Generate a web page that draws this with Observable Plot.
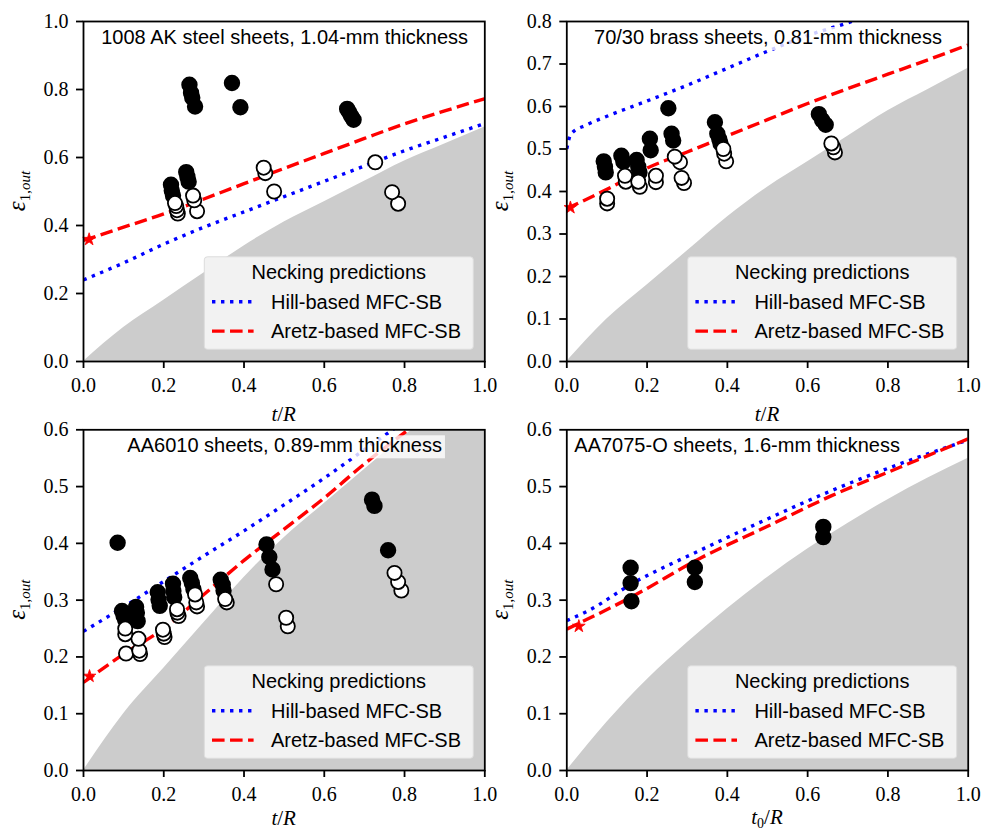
<!DOCTYPE html>
<html><head><meta charset="utf-8">
<script src="https://cdn.jsdelivr.net/npm/d3@7"></script>
<script src="https://cdn.jsdelivr.net/npm/@observablehq/plot@0.6"></script>
<style>
body{margin:0;background:#fff;}
#fig{position:relative;width:983px;height:832px;overflow:hidden;background:#fff;}
#fig svg{position:absolute;overflow:visible;max-width:none;background:transparent !important;}
</style></head><body><div id="fig"></div>
<script>
// ---------- data ----------
const gridX = [0,0.1,0.2,0.3,0.4,0.5,0.6,0.7,0.8,0.9,1.0];
const grayLnY = [0,0.10,0.18,0.26,0.34,0.41,0.47,0.53,0.59,0.64,0.69];
const grayThickY = [0,0.085,0.16,0.225,0.285,0.34,0.39,0.435,0.477,0.515,0.55];

// 1008 AK steel
const steelTitle = "1008 AK steel sheets, 1.04-mm thickness";
const steelHillX = gridX;
const steelHillY = [0.24,0.29,0.345,0.395,0.44,0.485,0.53,0.575,0.62,0.66,0.70];
const steelAretzX = gridX;
const steelAretzY = [0.356,0.395,0.434,0.478,0.523,0.568,0.612,0.656,0.699,0.737,0.773];
const steelFilledX = [0.264,0.268,0.271,0.278,0.370,0.391,0.657,0.662,0.667,0.673,0.218,0.220,0.223,0.256,0.259,0.262];
const steelFilledY = [0.814,0.790,0.776,0.750,0.819,0.748,0.743,0.733,0.722,0.711,0.520,0.503,0.488,0.557,0.543,0.529];
const steelOpenX = [0.228,0.231,0.233,0.235,0.273,0.276,0.283,0.449,0.453,0.475,0.727,0.769,0.784];
const steelOpenY = [0.466,0.457,0.445,0.435,0.488,0.474,0.442,0.570,0.554,0.500,0.586,0.498,0.464];
const steelStarX = [0.014], steelStarY = [0.359];

// 70/30 brass
const brassTitle = "70/30 brass sheets, 0.81-mm thickness";
const brassHillX = [0,0.01,0.05,0.1,0.2,0.3,0.4,0.5,0.6,0.7,0.8];
const brassHillY = [0.50,0.535,0.557,0.577,0.613,0.65,0.69,0.73,0.767,0.797,0.83];
const brassAretzX = gridX;
const brassAretzY = [0.36,0.405,0.455,0.493,0.531,0.569,0.607,0.642,0.676,0.71,0.745];
const brassFilledX = [0.092,0.095,0.097,0.136,0.141,0.174,0.178,0.181,0.207,0.209,0.253,0.261,0.265,0.369,0.375,0.380,0.383,0.628,0.636,0.645];
const brassFilledY = [0.471,0.458,0.445,0.484,0.470,0.474,0.458,0.445,0.524,0.497,0.596,0.536,0.520,0.563,0.536,0.523,0.513,0.582,0.568,0.557];
const brassOpenX = [0.1005,0.1005,0.145,0.147,0.178,0.182,0.222,0.222,0.269,0.282,0.286,0.292,0.390,0.392,0.397,0.659,0.664,0.668];
const brassOpenY = [0.383,0.372,0.437,0.423,0.423,0.411,0.437,0.422,0.482,0.469,0.432,0.420,0.500,0.489,0.471,0.513,0.504,0.492];
const brassStarX = [0.009], brassStarY = [0.362];

// AA6010
const aa6010Title = "AA6010 sheets, 0.89-mm thickness";
const aa6010HillX = [0,0.1,0.2,0.3,0.4,0.5,0.6,0.7,0.8];
const aa6010HillY = [0.245,0.288,0.333,0.378,0.422,0.468,0.515,0.565,0.615];
const aa6010AretzX = [0,0.1,0.2,0.3,0.4,0.5,0.6,0.7,0.8,0.9];
const aa6010AretzY = [0.155,0.205,0.25,0.31,0.37,0.425,0.48,0.54,0.595,0.65];
const aa6010FilledX = [0.085,0.096,0.100,0.104,0.131,0.133,0.135,0.185,0.187,0.190,0.223,0.224,0.226,0.266,0.270,0.274,0.342,0.347,0.349,0.456,0.463,0.471,0.719,0.725,0.759];
const aa6010FilledY = [0.401,0.281,0.272,0.265,0.288,0.278,0.263,0.314,0.301,0.290,0.329,0.316,0.305,0.339,0.330,0.319,0.336,0.327,0.317,0.398,0.376,0.354,0.477,0.466,0.388];
const aa6010OpenX = [0.104,0.104,0.106,0.137,0.139,0.141,0.198,0.200,0.202,0.233,0.234,0.237,0.278,0.281,0.283,0.353,0.357,0.480,0.505,0.509,0.775,0.784,0.792];
const aa6010OpenY = [0.250,0.240,0.206,0.232,0.211,0.205,0.248,0.241,0.235,0.284,0.278,0.272,0.310,0.296,0.289,0.302,0.296,0.328,0.269,0.254,0.348,0.332,0.317];
const aa6010StarX = [0.015], aa6010StarY = [0.166];

// AA7075-O
const aa7075Title = "AA7075-O sheets, 1.6-mm thickness";
const aa7075HillX = [0,0.05,0.165,0.33,0.5,0.66,0.83,1.0];
const aa7075HillY = [0.264,0.28,0.33,0.387,0.443,0.493,0.54,0.582];
const aa7075AretzX = [0,0.165,0.33,0.5,0.66,0.83,1.0];
const aa7075AretzY = [0.249,0.307,0.373,0.43,0.484,0.534,0.584];
const aa7075FilledX = [0.159,0.159,0.161,0.319,0.319,0.639,0.639];
const aa7075FilledY = [0.357,0.330,0.298,0.357,0.332,0.429,0.411];
const aa7075OpenX = [], aa7075OpenY = [];
const aa7075StarX = [0.03], aa7075StarY = [0.254];

const legendTitle = "Necking predictions";
const legendLabels = ["Hill-based MFC-SB", "Aretz-based MFC-SB"];
const xTicks = [0,0.2,0.4,0.6,0.8,1.0];
const yTicksSteel = [0,0.2,0.4,0.6,0.8,1.0];
const yTicksBrass = [0,0.1,0.2,0.3,0.4,0.5,0.6,0.7,0.8];
const yTicksAl = [0,0.1,0.2,0.3,0.4,0.5,0.6];

// ---------- drawing ----------
const pts = (xs, ys) => xs.map((x, i) => ({x, y: ys[i]}));
const fig = document.getElementById("fig");
const SANS = "'Liberation Sans', Arial, sans-serif";
const SERIF = "'Liberation Serif', 'Times New Roman', serif";
const LW = 3.4;

function panel(c) {
  const W = c.width, H = 416;
  const L = c.mL, R = W - c.mR, T = c.mT, B = H - c.mB;
  const open = d3.sort(pts(c.openX, c.openY), d => d.y);
  const svg = Plot.plot({
    width: W, height: H,
    marginLeft: c.mL, marginRight: c.mR, marginTop: c.mT, marginBottom: c.mB,
    style: {background: "transparent", overflow: "visible"},
    x: {domain: [0, 1], label: null},
    y: {domain: [0, c.yMax], label: null},
    marks: [
      Plot.areaY(pts(gridX, c.grayY), {x: "x", y: "y", fill: "#cccccc", curve: "monotone-x", clip: true}),
      Plot.line(pts(c.hillX, c.hillY), {x: "x", y: "y", stroke: "#0000ff", strokeWidth: LW, strokeDasharray: `${LW},${LW*1.65}`, strokeLinecap: "butt", curve: "monotone-x", clip: true}),
      Plot.line(pts(c.aretzX, c.aretzY), {x: "x", y: "y", stroke: "#ff0000", strokeWidth: LW, strokeDasharray: `${LW*3.7},${LW*1.6}`, strokeLinecap: "butt", curve: "monotone-x", clip: true}),
      Plot.dot(pts(c.filledX, c.filledY), {x: "x", y: "y", r: 7.3, fill: "black", stroke: "black", strokeWidth: 1.8}),
      Plot.dot(open, {x: "x", y: "y", r: 7.1, fill: "white", stroke: "black", strokeWidth: 1.8}),
      Plot.dot(pts(c.starX, c.starY), {x: "x", y: "y", symbol: "star", r: 4, fill: "#ff0000", stroke: "#ff0000", strokeWidth: 0.8}),
      Plot.frame({stroke: "black", strokeWidth: 1.8}),
      Plot.axisX({ticks: xTicks, tickFormat: d => d.toFixed(1), tickSize: 7, tickPadding: 9, strokeWidth: 1.8, label: null, fill: "black", fontFamily: SERIF, fontSize: 20}),
      Plot.axisY({ticks: c.yTicks, tickFormat: d => d.toFixed(1), tickSize: 7, tickPadding: 8, strokeWidth: 1.8, label: null, fill: "black", fontFamily: SERIF, fontSize: 20})
    ]
  });
  svg.style.left = c.left + "px";
  svg.style.top = c.top + "px";
  svg.style.background = "transparent";
  fig.appendChild(svg);
  const s = d3.select(svg);

  // title with semi-transparent white box
  const tg = s.append("g");
  const tt = tg.append("text")
    .attr("x", c.titleAnchor === "start" ? L + 8 : (L + R) / 2 + 1)
    .attr("y", T + 23)
    .attr("text-anchor", c.titleAnchor)
    .style("font-family", SANS).style("font-size", "20px").attr("fill", "black")
    .text(c.title);
  const bb = tt.node().getBBox();
  tg.insert("rect", "text").attr("x", bb.x - 3).attr("y", bb.y + 1).attr("width", bb.width + 6).attr("height", bb.height + 1)
    .attr("fill", "white").attr("fill-opacity", 0.8);

  // legend
  const lw = 269, lh = 92.5, lx = R - 11 - lw, ly = B - 11.7 - lh;
  const lg = s.append("g").style("font-family", SANS).style("font-size", "20px").attr("text-anchor", "start");
  lg.append("rect").attr("x", lx).attr("y", ly).attr("width", lw).attr("height", lh).attr("rx", 3)
    .attr("fill", "#f2f2f2").attr("stroke", "#dcdcdc").attr("stroke-width", 1);
  lg.append("text").attr("x", lx + lw / 2).attr("y", ly + 22.6).attr("text-anchor", "middle").text(legendTitle);
  lg.append("line").attr("x1", lx + 7.7).attr("x2", lx + 49.3).attr("y1", ly + 45).attr("y2", ly + 45)
    .attr("stroke", "#0000ff").attr("stroke-width", LW).attr("stroke-dasharray", `${LW},${LW*1.65}`);
  lg.append("text").attr("x", lx + 66.7).attr("y", ly + 52.6).attr("text-anchor", "start").text(legendLabels[0]);
  lg.append("line").attr("x1", lx + 7.7).attr("x2", lx + 49.3).attr("y1", ly + 74.3).attr("y2", ly + 74.3)
    .attr("stroke", "#ff0000").attr("stroke-width", LW).attr("stroke-dasharray", `${LW*3.7},${LW*1.6}`);
  lg.append("text").attr("x", lx + 66.7).attr("y", ly + 81.6).attr("text-anchor", "start").text(legendLabels[1]);

  // x label
  const xl = s.append("text").attr("x", (L + R) / 2).attr("y", c.xLabelY).attr("text-anchor", "middle")
    .style("font-family", SERIF).style("font-size", "21px");
  xl.append("tspan").style("font-style", "italic").text("t");
  if (c.sub0) xl.append("tspan").attr("font-size", "14px").attr("dy", 4).text("0");
  xl.append("tspan").attr("dy", c.sub0 ? -4 : 0).text("/");
  xl.append("tspan").style("font-style", "italic").text("R");

  // y label
  const yl = s.append("text").attr("transform", `translate(${L - 58},${(T + B) / 2}) rotate(-90)`)
    .attr("text-anchor", "middle").style("font-family", SERIF).style("font-size", "25px");
  yl.append("tspan").style("font-style", "italic").text("ε");
  yl.append("tspan").attr("font-size", "15px").attr("dy", 5).text("1,");
  yl.append("tspan").attr("font-size", "15px").style("font-style", "italic").text("out");
}

panel({left: 0, top: 0, width: 491, mL: 83, mR: 6.7, mT: 21, mB: 55, yMax: 1.0, yTicks: yTicksSteel,
  grayY: grayLnY, hillX: steelHillX, hillY: steelHillY, aretzX: steelAretzX, aretzY: steelAretzY,
  filledX: steelFilledX, filledY: steelFilledY, openX: steelOpenX, openY: steelOpenY,
  starX: steelStarX, starY: steelStarY, title: steelTitle, titleAnchor: "middle", xLabelY: 421});
panel({left: 491, top: 0, width: 492, mL: 75.3, mR: 15.3, mT: 21, mB: 55, yMax: 0.8, yTicks: yTicksBrass,
  grayY: grayLnY, hillX: brassHillX, hillY: brassHillY, aretzX: brassAretzX, aretzY: brassAretzY,
  filledX: brassFilledX, filledY: brassFilledY, openX: brassOpenX, openY: brassOpenY,
  starX: brassStarX, starY: brassStarY, title: brassTitle, titleAnchor: "middle", xLabelY: 421});
panel({left: 0, top: 416, width: 491, mL: 83, mR: 6.7, mT: 13.3, mB: 62, yMax: 0.6, yTicks: yTicksAl,
  grayY: grayLnY, hillX: aa6010HillX, hillY: aa6010HillY, aretzX: aa6010AretzX, aretzY: aa6010AretzY,
  filledX: aa6010FilledX, filledY: aa6010FilledY, openX: aa6010OpenX, openY: aa6010OpenY,
  starX: aa6010StarX, starY: aa6010StarY, title: aa6010Title, titleAnchor: "middle", xLabelY: 409});
panel({left: 491, top: 416, width: 492, mL: 75.3, mR: 15.3, mT: 13.3, mB: 62, yMax: 0.6, yTicks: yTicksAl,
  grayY: grayThickY, hillX: aa7075HillX, hillY: aa7075HillY, aretzX: aa7075AretzX, aretzY: aa7075AretzY,
  filledX: aa7075FilledX, filledY: aa7075FilledY, openX: aa7075OpenX, openY: aa7075OpenY,
  starX: aa7075StarX, starY: aa7075StarY, title: aa7075Title, titleAnchor: "start", xLabelY: 408, sub0: true});
</script></body></html>
